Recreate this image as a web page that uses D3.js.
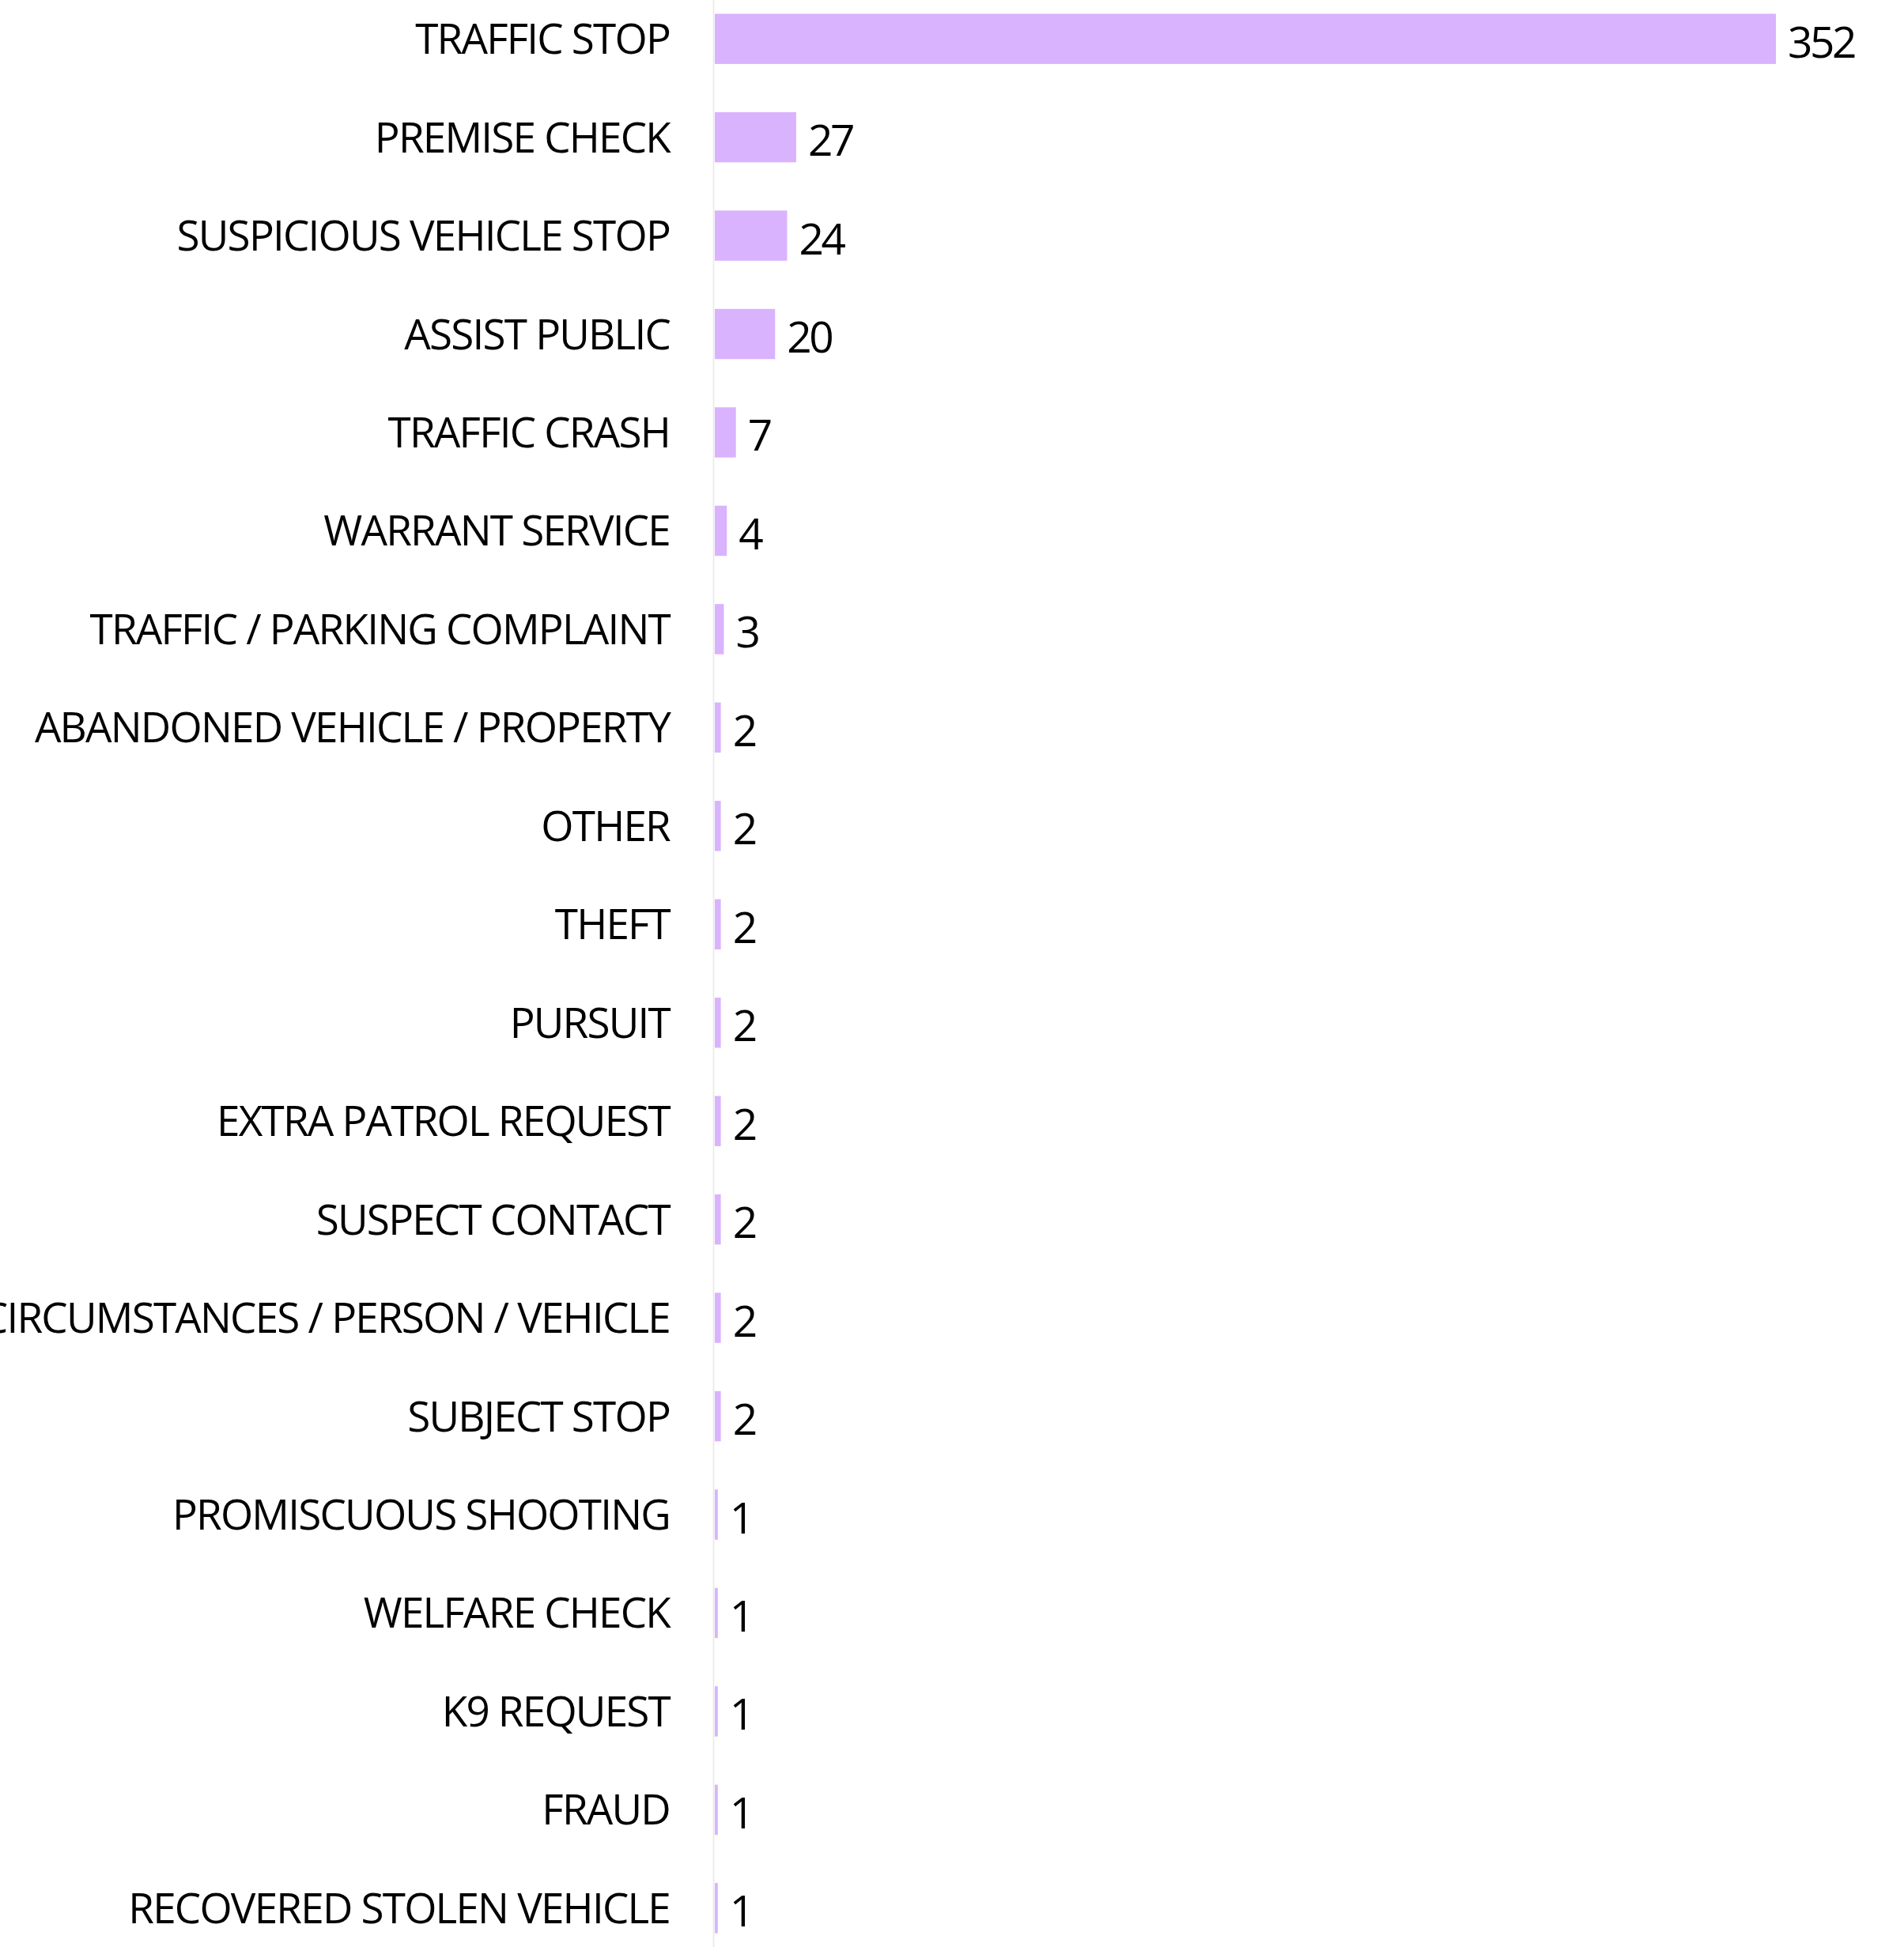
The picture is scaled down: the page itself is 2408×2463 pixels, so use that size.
<!DOCTYPE html>
<html>
<head>
<meta charset="utf-8">
<script src="https://cdn.jsdelivr.net/npm/d3@7"></script>
<style>
  html, body { margin: 0; padding: 0; background: #fff; overflow: hidden; }
  svg text { font-family: "Open Sans", "Noto Sans", sans-serif; fill: #000; }
</style>
</head>
<body>
<svg id="chart"></svg>
<script>
// call types, sorted by count
const categories = [
  "TRAFFIC STOP",
  "PREMISE CHECK",
  "SUSPICIOUS VEHICLE STOP",
  "ASSIST PUBLIC",
  "TRAFFIC CRASH",
  "WARRANT SERVICE",
  "TRAFFIC / PARKING COMPLAINT",
  "ABANDONED VEHICLE / PROPERTY",
  "OTHER",
  "THEFT",
  "PURSUIT",
  "EXTRA PATROL REQUEST",
  "SUSPECT CONTACT",
  "SUSPICIOUS CIRCUMSTANCES / PERSON / VEHICLE",
  "SUBJECT STOP",
  "PROMISCUOUS SHOOTING",
  "WELFARE CHECK",
  "K9 REQUEST",
  "FRAUD",
  "RECOVERED STOLEN VEHICLE"
];
const counts = [352, 27, 24, 20, 7, 4, 3, 2, 2, 2, 2, 2, 2, 2, 2, 1, 1, 1, 1, 1];

const data = categories.map((c, i) => ({ name: c, value: counts[i] }));

const W = 2408, H = 2463;
const m = { left: 904 };

const svg = d3.select("#chart").attr("width", W).attr("height", H);

const x = d3.scaleLinear().domain([0, 352]).range([0, 1342]);
const y = d3.scaleBand()
  .domain(categories)
  .range([0, H])
  .paddingInner(0.49)
  .paddingOuter(0.14);

// thin baseline on the left of the bars
svg.append("line")
  .attr("x1", m.left - 1.5).attr("x2", m.left - 1.5)
  .attr("y1", 0).attr("y2", H)
  .attr("stroke", "#e9e9e9")
  .attr("stroke-width", 1.7);

const g = svg.append("g").attr("transform", `translate(${m.left},0)`);

g.selectAll("rect.bar")
  .data(data)
  .join("rect")
  .attr("class", "bar")
  .attr("x", 0)
  .attr("y", d => y(d.name))
  .attr("width", d => x(d.value))
  .attr("height", y.bandwidth())
  .attr("fill", "#d9b3fe");

// category labels
g.selectAll("text.cat")
  .data(data)
  .join("text")
  .attr("class", "cat")
  .attr("x", -57)
  .attr("y", d => y(d.name) + y.bandwidth() / 2 + 19)
  .attr("text-anchor", "end")
  .style("font-size", "53px")
  .style("letter-spacing", "-1.8px")
  .text(d => d.name);

// value labels
g.selectAll("text.val")
  .data(data)
  .join("text")
  .attr("class", "val")
  .attr("x", d => x(d.value) + 15)
  .attr("y", d => y(d.name) + y.bandwidth() / 2 + 23.5)
  .style("font-size", "55px")
  .style("letter-spacing", "-3.5px")
  .text(d => d.value);
</script>
</body>
</html>
